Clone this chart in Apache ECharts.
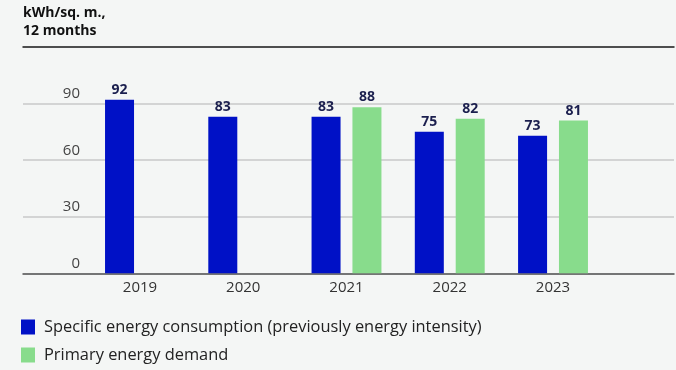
<!DOCTYPE html>
<html>
<head>
<meta charset="utf-8">
<script src="https://cdn.jsdelivr.net/npm/echarts@6/dist/echarts.min.js"></script>
<style>
html,body{margin:0;padding:0;background:#f4f6f5;}
#c{width:676px;height:370px;}
</style>
</head>
<body>
<div id="c"></div>
<script>
const years = ['2019', '2020', '2021', '2022', '2023'];
const specificConsumption = [92, 83, 83, 75, 73];
const primaryDemand = [null, null, 88, 82, 81];
const seriesNames = ['Specific energy consumption (previously energy intensity)', 'Primary energy demand'];
const unitTitle = 'kWh/sq. m.,\n12 months';
const yMin = 0, yMax = 120, yStep = 30;

const FONT = '"Open Sans", Lato, sans-serif';
const chart = echarts.init(document.getElementById('c'), null, {renderer: 'canvas'});
const labelStyle = {
  show: true, position: 'top', distance: 3,
  color: '#1b1f4e', fontFamily: FONT, fontWeight: 'bold', fontSize: 14
};
chart.setOption({
  backgroundColor: '#f4f6f5',
  animation: false,
  title: {
    text: unitTitle, left: 23, top: 4, padding: 0,
    textStyle: {fontFamily: FONT, fontWeight: 'bold', fontSize: 14, lineHeight: 18, color: '#111'}
  },
  legend: {
    orient: 'vertical', left: 21, top: 319, padding: 0, itemWidth: 14, itemHeight: 15, itemGap: 12,
    icon: 'rect',
    textStyle: {fontFamily: FONT, fontSize: 16.4, color: '#222', padding: [0, 0, 0, 4]},
    data: seriesNames
  },
  grid: [
    {left: 23, right: 2, top: 47, bottom: 96.7},
    {left: 88.35, right: 71.35, top: 47, bottom: 96.7}
  ],
  xAxis: [
    {type: 'category', gridIndex: 0, data: [''], position: 'bottom',
     axisLine: {show: true, lineStyle: {color: '#555', width: 1.5}},
     axisTick: {show: false}, axisLabel: {show: false}, splitLine: {show: false}},
    {type: 'category', gridIndex: 0, data: [''], position: 'top',
     axisLine: {show: true, lineStyle: {color: '#222', width: 1.5}},
     axisTick: {show: false}, axisLabel: {show: false}, splitLine: {show: false}},
    {type: 'category', gridIndex: 1, data: years, position: 'bottom',
     axisLine: {show: false}, axisTick: {show: false},
     axisLabel: {color: '#333', fontFamily: FONT, fontSize: 15, margin: 7}}
  ],
  yAxis: [
    {type: 'value', gridIndex: 0, min: yMin, max: yMax, interval: yStep,
     axisLine: {show: false}, axisTick: {show: false},
     splitLine: {show: true, lineStyle: {color: '#c8c8c8', width: 1.5}},
     axisLabel: {inside: true, margin: 57, align: 'right', verticalAlign: 'bottom',
       padding: [0, 0, 2, 0], color: '#444', fontFamily: FONT, fontSize: 15,
       formatter: v => v === yMax ? '' : String(v)}},
    {type: 'value', gridIndex: 1, min: yMin, max: yMax, interval: yStep, show: false}
  ],
  series: [
    {name: seriesNames[0], type: 'bar', xAxisIndex: 2, yAxisIndex: 1,
     data: specificConsumption, barWidth: 29, barGap: '41%',
     itemStyle: {color: '#0011c6'}, label: labelStyle},
    {name: seriesNames[1], type: 'bar', xAxisIndex: 2, yAxisIndex: 1,
     data: primaryDemand, barWidth: 29, barGap: '41%',
     itemStyle: {color: '#88dc8c'}, label: labelStyle}
  ]
});
</script>
</body>
</html>
